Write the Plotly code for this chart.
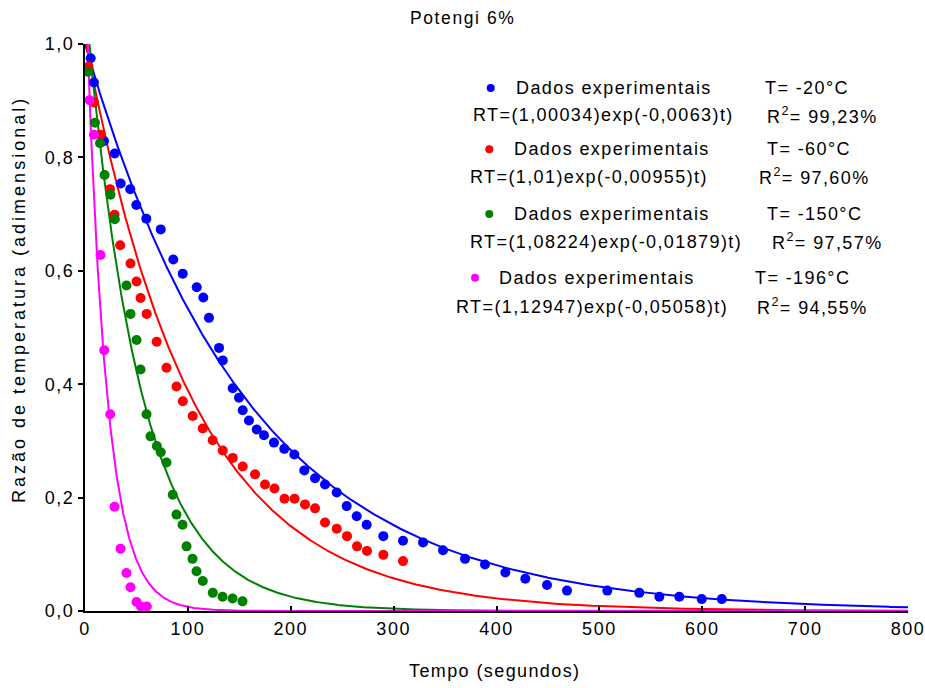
import numpy as np
import plotly.graph_objects as go

# ---------------- data ----------------
blue_t = [5.5, 8.7, 18.5, 28.9, 34.7, 44.0, 49.9, 59.6, 73.6, 85.8, 95.0, 108.6, 115.0, 120.5, 130.3,
          133.9, 143.6, 149.7, 153.3, 159.4, 166.9, 174.0, 183.7, 193.7, 203.5, 213.2, 223.6, 233.3,
          244.7, 254.4, 264.1, 273.8, 290.0, 309.1, 328.6, 348.0, 369.4, 388.8, 408.6, 428.0, 449.1,
          468.5, 507.7, 538.8, 558.3, 577.7, 599.5, 619.0]
blue_rt = [0.975, 0.932, 0.829, 0.807, 0.754, 0.744, 0.716, 0.692, 0.673, 0.620, 0.595, 0.571, 0.553,
           0.517, 0.464, 0.442, 0.393, 0.376, 0.354, 0.336, 0.320, 0.310, 0.297, 0.286, 0.276, 0.248,
           0.234, 0.223, 0.209, 0.185, 0.167, 0.152, 0.132, 0.124, 0.121, 0.107, 0.092, 0.082, 0.068,
           0.057, 0.046, 0.036, 0.036, 0.032, 0.025, 0.025, 0.021, 0.021]

red_t = [3.4, 8.7, 15.1, 24.3, 28.7, 34.2, 44.2, 50.1, 54.0, 60.0, 69.7, 79.2, 88.9, 95.1, 104.7,
         114.4, 124.1, 133.9, 143.6, 153.3, 165.3, 175.0, 184.2, 193.9, 203.7, 213.9, 223.6, 233.3,
         244.7, 254.7, 264.4, 274.1, 290.0, 309.1]
red_rt = [0.960, 0.897, 0.840, 0.744, 0.699, 0.645, 0.613, 0.581, 0.552, 0.524, 0.475, 0.429, 0.396,
          0.370, 0.344, 0.322, 0.301, 0.283, 0.270, 0.255, 0.241, 0.223, 0.216, 0.198, 0.198, 0.188,
          0.181, 0.156, 0.145, 0.132, 0.114, 0.106, 0.099, 0.088]

green_t = [2.9, 9.7, 14.6, 19.0, 24.8, 29.0, 40.3, 44.2, 50.1, 54.0, 59.8, 63.7, 69.8, 73.6, 79.2,
           85.3, 88.9, 94.8, 98.7, 104.5, 108.4, 114.5, 124.2, 133.7, 143.4, 153.1]
green_rt = [0.951, 0.861, 0.825, 0.769, 0.734, 0.691, 0.574, 0.524, 0.478, 0.426, 0.347, 0.308, 0.291,
            0.280, 0.262, 0.205, 0.170, 0.152, 0.114, 0.092, 0.070, 0.053, 0.032, 0.025, 0.022, 0.017]

mag_t = [4.4, 8.7, 15.1, 18.7, 24.5, 28.7, 34.5, 40.3, 44.2, 50.1, 54.4, 60.1]
mag_rt = [0.901, 0.840, 0.628, 0.460, 0.347, 0.184, 0.110, 0.067, 0.042, 0.016, 0.008, 0.008]

# fitted model parameters printed on the chart: RT = a * exp(-b t)
fit_a = [1.00034, 1.01, 1.08224, 1.12947]
fit_b = [0.0063, 0.00955, 0.01879, 0.05058]
temps = ["-20°C", "-60°C", "-150°C", "-196°C"]
r2 = ["99,23%", "97,60%", "97,57%", "94,55%"]
eq_a = ["1,00034", "1,01", "1,08224", "1,12947"]
eq_b = ["0,0063", "0,00955", "0,01879", "0,05058"]

x_ticks = [0, 100, 200, 300, 400, 500, 600, 700, 800]
y_ticks = [0.0, 0.2, 0.4, 0.6, 0.8, 1.0]
y_tick_labels = ["0,0", "0,2", "0,4", "0,6", "0,8", "1,0"]

colors = ["#0000FF", "#FF0000", "#008000", "#FF00FF"]

# ---------------- figure ----------------
FONT = "Liberation Sans, Arial, sans-serif"
LS = "letter-spacing:1.4px"


def sp(txt, ls=LS):
    return f"<span style='{ls}'>{txt}</span>"


fig = go.Figure()
t_fit = np.linspace(0, 800, 1601)
series = [(blue_t, blue_rt), (red_t, red_rt), (green_t, green_rt), (mag_t, mag_rt)]
for i, (tt, rr) in enumerate(series):
    fig.add_trace(go.Scatter(x=t_fit, y=fit_a[i] * np.exp(-fit_b[i] * t_fit), mode="lines",
                             line=dict(color=colors[i], width=2), showlegend=False, hoverinfo="skip"))
for i, (tt, rr) in enumerate(series):
    fig.add_trace(go.Scatter(x=tt, y=rr, mode="markers",
                             marker=dict(color=colors[i], size=10, line=dict(width=0)),
                             showlegend=False))

W, H = 925, 688
L, R, T, B = 85, 17, 44, 77
pw, ph = W - L - R, H - T - B


def px(xp):
    return (xp - L) / pw


def py(yp):
    return (H - B - yp) / ph


ann = []
shapes = []
# legend-like text block
rows = [
    # dot_x, dados_x, T_x, y1, eq_x, r2_x, y2
    (490.7, 514, 763, 88, 471, 765, 115),
    (489.3, 512, 765, 149.3, 468, 757, 176.7),
    (489.3, 512, 765, 214, 468, 770, 241.7),
    (475, 497.3, 753, 277.7, 454, 755, 306.7),
]
for i, (dx, tx, Tx, y1, ex, rx, y2) in enumerate(rows):
    shapes.append(dict(type="circle", xref="paper", yref="paper", xsizemode="pixel", ysizemode="pixel",
                       xanchor=px(dx), yanchor=py(y1), x0=-4, x1=4, y0=-4, y1=4,
                       fillcolor=colors[i], line=dict(width=0)))
    ann.append(dict(text=sp("Dados experimentais"), x=px(tx), y=py(y1)))
    ann.append(dict(text=sp("T= " + temps[i]), x=px(Tx), y=py(y1)))
    ann.append(dict(text=sp(f"RT=({eq_a[i]})exp(-{eq_b[i]})t)"), x=px(ex), y=py(y2)))
    ann.append(dict(text=sp(f"R<sup>2</sup>= {r2[i]}"), x=px(rx), y=py(y2)))

annotations = []
for a in ann:
    annotations.append(dict(xref="paper", yref="paper", xanchor="left", yanchor="middle",
                            showarrow=False, font=dict(size=18, color="#000", family=FONT), **a))

# title and axis titles
annotations.append(dict(text=sp("Potengi 6%", "letter-spacing:1.6px"), xref="paper", yref="paper",
                        x=px(463), y=py(18), xanchor="center", yanchor="middle", showarrow=False,
                        font=dict(size=17.5, color="#000", family=FONT)))
annotations.append(dict(text=sp("Tempo (segundos)"), xref="paper", yref="paper", x=px(494), y=py(671),
                        xanchor="center", yanchor="middle", showarrow=False,
                        font=dict(size=18, color="#000", family=FONT)))
annotations.append(dict(text=sp("Razão de temperatura (adimensional)", "letter-spacing:3px"),
                        xref="paper", yref="paper", x=px(19), y=py(300), textangle=-90,
                        xanchor="center", yanchor="middle", showarrow=False,
                        font=dict(size=18, color="#000", family=FONT)))

fig.update_layout(
    width=W, height=H,
    margin=dict(l=L, r=R, t=T, b=B, pad=0, autoexpand=False),
    paper_bgcolor="white", plot_bgcolor="white",
    font=dict(family=FONT, size=18, color="#000"),
    annotations=annotations,
    shapes=shapes,
    xaxis=dict(range=[0, 800], tickmode="array", tickvals=x_ticks,
               ticktext=[sp(str(v), "letter-spacing:1.5px") for v in x_ticks],
               ticks="inside", ticklen=5, tickwidth=1.5, tickcolor="#000",
               ticklabeloverflow="allow", automargin=False,
               showline=True, linecolor="#000", linewidth=2, showgrid=False, zeroline=False,
               tickfont=dict(size=18, family=FONT, color="#000")),
    yaxis=dict(range=[0, 1.0], tickmode="array", tickvals=y_ticks,
               ticktext=[sp(v, "letter-spacing:1.5px") for v in y_tick_labels],
               ticks="outside", ticklen=5, tickwidth=1.5, tickcolor="#000",
               ticklabeloverflow="allow", automargin=False,
               showline=True, linecolor="#000", linewidth=2, showgrid=False, zeroline=False,
               tickfont=dict(size=18, family=FONT, color="#000")),
)

fig.write_html("out.html", config={"displayModeBar": False},
               post_script="document.body.style.margin='0';document.body.style.padding='0';")
